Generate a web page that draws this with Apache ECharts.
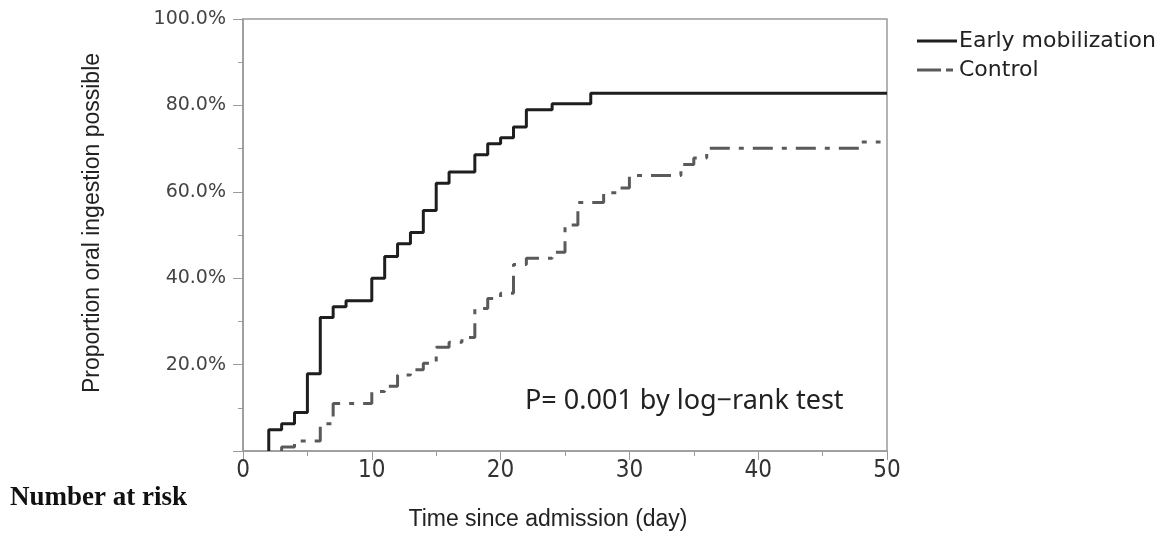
<!DOCTYPE html>
<html>
<head>
<meta charset="utf-8">
<script src="https://cdn.jsdelivr.net/npm/echarts@6/dist/echarts.min.js"></script>
<style>
  html, body { margin: 0; padding: 0; background: #fff; }
  #main { width: 1173px; height: 536px; }
</style>
</head>
<body>
<div id="main"></div>
<script>
// 数据: [day, percent]
var seriesNames = ['Early mobilization', 'Control'];
var earlyData = [
    [2, 0], [2, 4.9], [3, 6.3], [4, 8.9], [5, 17.9], [6, 30.9], [7, 33.4], [8, 34.8],
    [10, 40.0], [11, 45.0], [12, 48.0], [13, 50.6], [14, 55.7], [15, 62.0], [16, 64.6],
    [18, 68.6], [19, 71.1], [20, 72.5], [21, 75.0], [22, 79.0], [24, 80.4], [27, 82.8],
    [50, 82.8]
];
var controlData = [
    [3, 0], [3, 0.9], [4, 2.3], [6, 6.3], [7, 11.0], [10, 13.8], [11, 15.0], [12, 17.6],
    [13, 18.8], [14, 20.3], [15, 24.0], [16, 25.2], [17, 26.3], [18, 33.0], [19, 35.3],
    [20, 36.5], [21, 43.2], [22, 44.6], [24, 46.0], [25, 52.3], [26, 57.5], [28, 59.8],
    [29, 60.9], [30, 63.8], [34, 66.3], [35, 67.8], [36, 70.1], [48, 71.5], [49.5, 71.5]
];
var xTicks = [0, 10, 20, 30, 40, 50];
var yTicks = [20, 40, 60, 80, 100];

var myChart = echarts.init(document.getElementById('main'));

var option = {
    animation: false,
    grid: {
        left: 243, right: 286, top: 19, bottom: 83,
        show: true,
        borderColor: '#9a9a9a',
        borderWidth: 1.5
    },
    // 图例: 线条图标
    legend: {
        data: [
            { name: seriesNames[0], icon: 'path://M0,0H40V3H0Z' },
            { name: seriesNames[1], icon: 'path://M0,0H24V3H0Z M29,0H36V3H29Z M40,0H40.01V3H40Z' }
        ],
        orient: 'vertical',
        left: 917,
        top: 30,
        padding: 0,
        itemWidth: 40,
        itemHeight: 3,
        itemGap: 7,
        textStyle: { fontFamily: 'DejaVu Sans', fontSize: 22, color: '#222', padding: [0, 0, 0, -3] }
    },
    xAxis: {
        type: 'value',
        min: 0, max: 50, interval: 10,
        name: 'Time since admission (day)',
        nameLocation: 'middle',
        nameGap: 57,
        nameTextStyle: {
            fontFamily: 'Liberation Sans', fontSize: 23, color: '#222',
            padding: [0, 34, 0, 0]
        },
        axisLine: { show: true, lineStyle: { color: '#9a9a9a', width: 1.5 } },
        axisTick: { show: true, length: 9, lineStyle: { color: '#9a9a9a' } },
        minorTick: { show: true, splitNumber: 2, length: 5, lineStyle: { color: '#9a9a9a' } },
        splitLine: { show: false },
        axisLabel: {
            margin: 8,
            fontFamily: "'DejaVu Sans Condensed', 'Liberation Sans'", fontSize: 24, color: '#333',
            formatter: function (v) { return xTicks.indexOf(v) >= 0 ? String(v) : ''; }
        }
    },
    yAxis: {
        type: 'value',
        min: 0, max: 100, interval: 20,
        name: 'Proportion oral ingestion possible',
        nameLocation: 'middle',
        nameGap: 139,
        nameTextStyle: {
            fontFamily: 'Liberation Sans', fontSize: 23, color: '#222',
            padding: [0, 0, 0, 24]
        },
        axisLine: { show: true, lineStyle: { color: '#9a9a9a', width: 1.5 } },
        axisTick: { show: true, length: 10, lineStyle: { color: '#9a9a9a' } },
        minorTick: { show: true, splitNumber: 2, length: 5, lineStyle: { color: '#9a9a9a' } },
        splitLine: { show: false },
        axisLabel: {
            margin: 17,
            fontFamily: 'DejaVu Sans', fontSize: 19, color: '#444',
            formatter: function (v) { return yTicks.indexOf(v) >= 0 ? v.toFixed(1) + '%' : ''; }
        }
    },
    series: [{
        name: seriesNames[0],
        type: 'line',
        step: 'end',
        symbol: 'none',
        data: earlyData,
        lineStyle: { color: '#1e1e1e', width: 3 },
        itemStyle: { color: '#1e1e1e' }
    }, {
        name: seriesNames[1],
        type: 'line',
        step: 'end',
        symbol: 'none',
        data: controlData,
        lineStyle: { color: '#5a5a5a', width: 3, type: [20, 9, 5, 9] },
        itemStyle: { color: '#5a5a5a' }
    }],
    graphic: [{
        type: 'text',
        left: 525,
        top: 388,
        style: {
            text: 'P= 0.001 by log\u2212rank test',
            font: '27px "Noto Sans"',
            fill: '#222'
        }
    }, {
        type: 'text',
        left: 10,
        top: 485,
        style: {
            text: 'Number at risk',
            font: 'bold 27px "Liberation Serif"',
            fill: '#111'
        }
    }]
};

myChart.setOption(option);
</script>
</body>
</html>
